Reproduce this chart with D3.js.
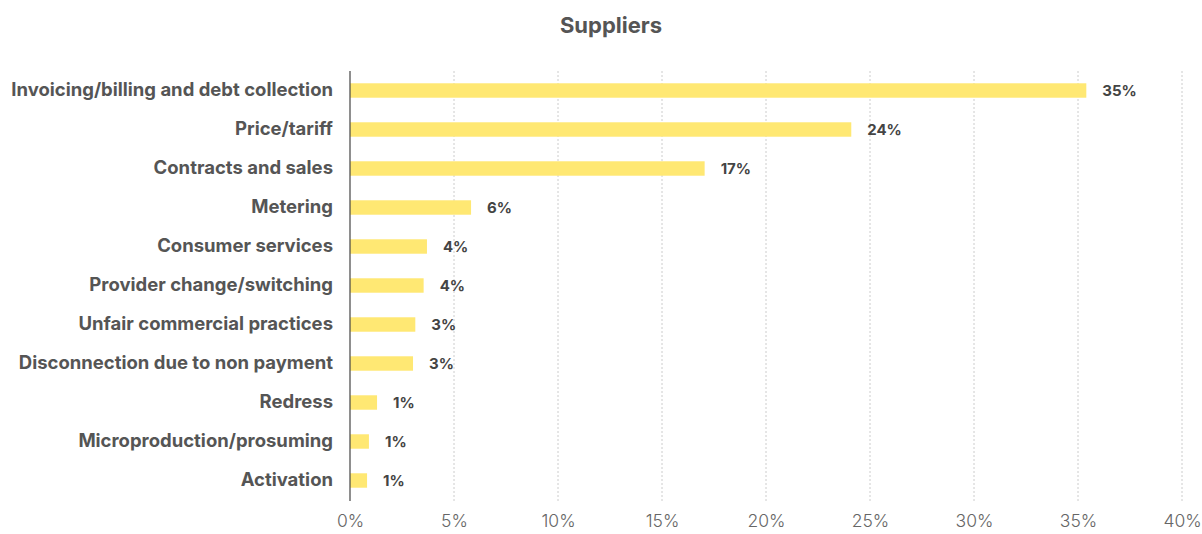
<!DOCTYPE html>
<html><head><meta charset="utf-8">
<script src="https://cdn.jsdelivr.net/npm/d3@7"></script>
<style>
body{margin:0;background:#fff;}
text{font-family:Inter,"Noto Sans",sans-serif;}
</style></head>
<body><svg id="c" width="1202" height="534"></svg>
<script>
const categories = ["Invoicing/billing and debt collection","Price/tariff","Contracts and sales","Metering","Consumer services","Provider change/switching","Unfair commercial practices","Disconnection due to non payment","Redress","Microproduction/prosuming","Activation"];
const values = [35.4, 24.1, 17.05, 5.82, 3.7, 3.54, 3.14, 3.03, 1.3, 0.91, 0.82];
const valueLabels = ["35%","24%","17%","6%","4%","4%","3%","3%","1%","1%","1%"];
const xTicks = [0,5,10,15,20,25,30,35,40];
const title = "Suppliers";

const svg = d3.select("#c");
const m = {left:350, right:1182, top:71, bottom:500};
const x = d3.scaleLinear().domain([0,40]).range([m.left,m.right]);
const y = d3.scaleBand().domain(categories).range([m.top,m.bottom]).paddingInner(0.63).paddingOuter(0.315);

svg.append("text").attr("x",611).attr("y",33).attr("text-anchor","middle")
  .attr("font-size",22).attr("font-weight",700).attr("fill","#555").text(title);

// grid
svg.append("g").selectAll("line").data(xTicks.filter(d=>d>0)).join("line")
  .attr("x1",d=>x(d)).attr("x2",d=>x(d)).attr("y1",m.top).attr("y2",m.bottom+1)
  .attr("stroke","#ccc").attr("stroke-width",1).attr("stroke-dasharray","2,2");

// bars
svg.append("g").selectAll("rect").data(values).join("rect")
  .attr("x",x(0)).attr("y",(d,i)=>y(categories[i]))
  .attr("width",d=>x(d)-x(0)).attr("height",y.bandwidth())
  .attr("fill","#ffe873");

// value labels
svg.append("g").selectAll("text").data(values).join("text")
  .attr("x",d=>x(d)+16).attr("y",(d,i)=>y(categories[i])+y.bandwidth()/2)
  .attr("dy","0.35em").attr("font-size",15).attr("font-weight",700).attr("fill","#444")
  .text((d,i)=>valueLabels[i]);

// category labels
svg.append("g").selectAll("text").data(categories).join("text")
  .attr("x",333).attr("y",d=>y(d)+y.bandwidth()/2 - 1).attr("dy","0.35em")
  .attr("text-anchor","end").attr("font-size",18.5).attr("font-weight",700).attr("fill","#555")
  .text(d=>d);

// zero axis
svg.append("line").attr("x1",x(0)).attr("x2",x(0)).attr("y1",m.top).attr("y2",m.bottom+1)
  .attr("stroke","#444").attr("stroke-width",1.2);

// x axis
const ax = svg.append("g").attr("transform",`translate(0,${m.bottom})`)
  .call(d3.axisBottom(x).tickValues(xTicks).tickFormat(d=>d+"%").tickSize(0).tickPadding(15));
ax.select(".domain").remove();
ax.selectAll("text").attr("font-size",17.5).attr("fill","#666").attr("font-family","Inter,'Noto Sans',sans-serif").attr("font-weight",300);
</script></body></html>
